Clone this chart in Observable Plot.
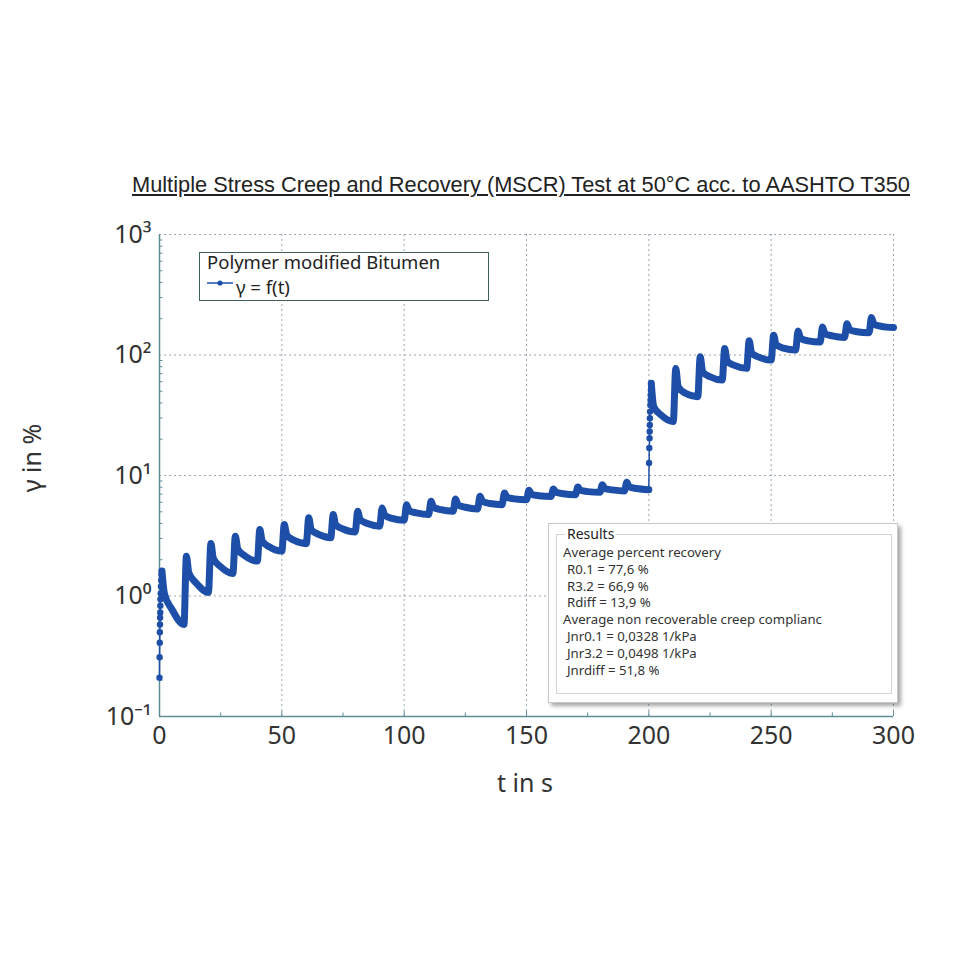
<!DOCTYPE html>
<html>
<head>
<meta charset="utf-8">
<script src="https://cdn.jsdelivr.net/npm/d3@7"></script>
<script src="https://cdn.jsdelivr.net/npm/@observablehq/plot@0.6"></script>
<style>
  html, body { margin: 0; padding: 0; background: #fff; }
  #wrap { position: relative; width: 972px; height: 972px; background: #fff; overflow: hidden; }
  #chart { position: absolute; left: 0; top: 0; }
  .title { position: absolute; left: 132px; top: 172px; font-family: "Liberation Sans", Arial, sans-serif; font-size: 21.8px; color: #222; text-decoration: underline; white-space: nowrap; }
  .xlabel { position: absolute; left: 0; width: 1050px; top: 765px; text-align: center; font-family: "Noto Sans", sans-serif; font-size: 25px; color: #333; }
  .ylabel { position: absolute; left: 31px; top: 458px; transform: translate(-50%, -50%) rotate(-90deg); font-family: "Noto Sans", sans-serif; font-size: 25px; color: #333; white-space: nowrap; }
  .legend { position: absolute; left: 199px; top: 252px; width: 288px; height: 47px; border: 1.5px solid #40605e; background: #fff; font-family: "Noto Sans", sans-serif; color: #222; }
  .legend .l1 { position: absolute; left: 7px; top: 0px; font-size: 18.5px; line-height: 1; white-space: nowrap; }
  .legend .l2 { position: absolute; left: 36px; top: 25px; font-size: 18.5px; line-height: 1; white-space: nowrap; }
  .legend svg { position: absolute; left: 6px; top: 26px; }
  .results { position: absolute; left: 548px; top: 523px; width: 348px; height: 178px; border: 1px solid #c8c8c8; background: #fff; box-shadow: 3px 3px 4px rgba(0,0,0,0.35); font-family: "Noto Sans", sans-serif; color: #333; }
  .results .grp { position: absolute; left: 7px; top: 10px; width: 334px; height: 158px; border: 1px solid #d4d4d4; }
  .results .cap { position: absolute; left: 16px; top: 0px; background: #fff; padding: 0 2px; font-size: 14px; color: #222; }
  .results .lines { position: absolute; left: 14px; top: 20px; font-size: 13.2px; line-height: 16.8px; white-space: nowrap; }
  .results .ind { padding-left: 4px; }
</style>
</head>
<body>
<div id="wrap">
  <div id="chart"></div>
  <div class="title">Multiple Stress Creep and Recovery (MSCR) Test at 50°C acc. to AASHTO T350</div>
  <div class="xlabel">t in s</div>
  <div class="ylabel">γ in %</div>
  <div class="legend">
    <div class="l1">Polymer modified Bitumen</div>
    <svg width="30" height="8"><line x1="1" y1="4" x2="27" y2="4" stroke="#1e4fa8" stroke-width="1.5"/><circle cx="14" cy="4" r="2.6" fill="#1e4fa8"/></svg>
    <div class="l2">γ = f(t)</div>
  </div>
  <div class="results">
    <div class="grp"></div>
    <div class="cap">Results</div>
    <div class="lines" id="reslines"></div>
  </div>
</div>
<script>
// ---- Data ----
const xTicks = [0, 50, 100, 150, 200, 250, 300];
const xMinorTicks = [25, 75, 125, 175, 225, 275];
const yTicks = [0.1, 1, 10, 100, 1000];
const yTickLabels = ["10⁻¹", "10⁰", "10¹", "10²", "10³"];
const yMinorTicks = [0.2,0.3,0.4,0.5,0.6,0.7,0.8,0.9, 2,3,4,5,6,7,8,9, 20,30,40,50,60,70,80,90, 200,300,400,500,600,700,800,900];

// start time of each creep-recovery cycle (s)
const cycleStart = [0,10,20,30,40,50,60,70,80,90,100,110,120,130,140,150,160,170,180,190,
                    200,210,220,230,240,250,260,270,280,290];
// stress level of each cycle (kPa)
const cycleStress = [0.1,0.1,0.1,0.1,0.1,0.1,0.1,0.1,0.1,0.1,0.1,0.1,0.1,0.1,0.1,0.1,0.1,0.1,0.1,0.1,
                     3.2,3.2,3.2,3.2,3.2,3.2,3.2,3.2,3.2,3.2];
// strain (%) at the end of creep (start + 1 s)
const peakStrain = [1.61,2.14,2.73,3.13,3.56,3.92,4.45,4.74,5.05,5.38,
                    5.73,6.10,6.39,6.72,7.16,7.53,7.73,8.03,8.39,8.77,
                    58.2,77.4,96.6,113,131,146,158,171,182,205];
// strain (%) one second into recovery (start + 2 s)
const kneeStrain = [1.05,1.55,2.05,2.45,2.85,3.20,3.55,3.90,4.30,4.70,
                    5.10,5.45,5.70,6.10,6.60,7.00,7.25,7.55,7.80,8.05,
                    37.3,54.6,72.6,89,104,122,138,150,162,180];
// strain (%) mid recovery (start + 5 s)
const midStrain = [0.78,1.28,1.75,2.15,2.55,2.90,3.25,3.60,4.00,4.40,
                   4.90,5.20,5.45,5.85,6.40,6.80,7.05,7.35,7.60,7.80,
                   31.8,48.1,66.0,82,96,114,131,144,156,173];
// strain (%) at the end of recovery (start + 10 s)
const endStrain = [0.58,1.07,1.54,1.95,2.36,2.72,3.05,3.40,3.80,4.25,
                   4.74,5.05,5.28,5.73,6.30,6.70,6.93,7.25,7.45,7.63,
                   28.0,45.1,62.0,77.5,90.8,110,128,140,153,169];
// sampled points of the first creep phase (0.1 kPa, first cycle)
const rise1Time   = [0.0,0.05,0.1,0.15,0.2,0.25,0.3,0.35,0.4,0.5,0.6,0.7,0.85,1.0];
const rise1Strain = [0.21,0.31,0.41,0.50,0.58,0.66,0.73,0.83,0.94,1.05,1.20,1.35,1.50,1.61];
// sampled points of the first creep phase at 3.2 kPa
const rise21Time   = [200.0,200.1,200.2,200.3,200.35,200.4,200.45,200.5,200.6,200.7,200.75,200.85,200.95,201.0];
const rise21Strain = [7.63,12.7,16.9,20.4,23.2,26.3,29.9,33.9,38.5,42.4,46.6,51.3,56.4,58.2];

const resultLines = [
  ["Average percent recovery", false],
  ["R0.1 = 77,6 %", true],
  ["R3.2 = 66,9 %", true],
  ["Rdiff = 13,9 %", true],
  ["Average non recoverable creep complianc", false],
  ["Jnr0.1 = 0,0328 1/kPa", true],
  ["Jnr3.2 = 0,0498 1/kPa", true],
  ["Jnrdiff = 51,8 %", true]
];

// ---- Build tables ----
const series = [];
cycleStart.forEach((t0, i) => {
  const s = cycleStress[i];
  series.push({t: t0 + 1, g: peakStrain[i], s});
  series.push({t: t0 + 2, g: kneeStrain[i], s});
  series.push({t: t0 + 5, g: midStrain[i], s});
  series.push({t: t0 + 10, g: endStrain[i], s});
});
const rises = [
  ...rise1Time.map((t, i) => ({t, g: rise1Strain[i], k: "a"})),
  ...rise21Time.map((t, i) => ({t, g: rise21Strain[i], k: "b"}))
];

const blue = "#1e4fa8";
const gridColor = "#9aa6b2";
const axisColor = "#5f8c99";

const chart = Plot.plot({
  width: 972,
  height: 972,
  marginLeft: 159,
  marginRight: 79,
  marginTop: 234,
  marginBottom: 256,
  style: {fontFamily: "'Noto Sans', sans-serif", background: "transparent", color: "#333"},
  x: {type: "linear", domain: [0, 300], label: null},
  y: {type: "log", domain: [0.1, 1000], label: null},
  marks: [
    Plot.gridX(xTicks.slice(1), {stroke: gridColor, strokeOpacity: 1, strokeDasharray: "2,3", strokeWidth: 1}),
    Plot.gridY(yTicks.slice(1), {stroke: gridColor, strokeOpacity: 1, strokeDasharray: "2,3", strokeWidth: 1}),
    Plot.ruleY(yMinorTicks, {x1: 0, x2: 1.4, stroke: axisColor, strokeWidth: 1}),
    Plot.ruleX(xMinorTicks, {y1: 0.1, y2: 0.107, stroke: axisColor, strokeWidth: 1}),
    Plot.ruleX(xTicks, {y1: 0.1, y2: 0.11, stroke: axisColor, strokeWidth: 1}),
    Plot.axisX(xTicks, {tickSize: 0, tickPadding: 10, fontSize: 25, label: null}),
    Plot.axisY(yTicks, {tickSize: 0, tickPadding: 8, fontSize: 25, label: null,
      tickFormat: d => yTickLabels[yTicks.indexOf(d)]}),
    Plot.ruleX([0], {stroke: axisColor, strokeWidth: 1.5}),
    Plot.ruleY([0.1], {stroke: axisColor, strokeWidth: 1.5}),
    Plot.line(rises, {x: "t", y: "g", z: "k", stroke: blue, strokeWidth: 1.5}),
    Plot.dot(rises, {x: "t", y: "g", r: 3.2, fill: blue, stroke: "none"}),
    Plot.line(series, {x: "t", y: "g", z: "s", stroke: blue, strokeWidth: 7, curve: "monotone-x", strokeLinejoin: "round", strokeLinecap: "round"})
  ]
});
document.getElementById("chart").appendChild(chart);

const rl = document.getElementById("reslines");
resultLines.forEach(([txt, ind]) => {
  const d = document.createElement("div");
  d.textContent = txt;
  if (ind) d.className = "ind";
  rl.appendChild(d);
});
</script>
</body>
</html>
